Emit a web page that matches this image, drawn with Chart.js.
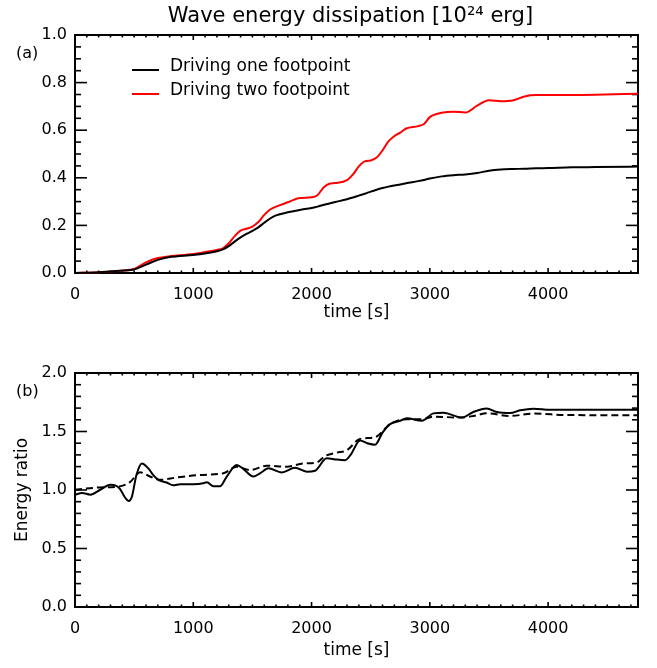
<!DOCTYPE html>
<html><head><meta charset="utf-8">
<script src="https://cdn.jsdelivr.net/npm/chart.js@4/dist/chart.umd.min.js"></script>
<style>
html,body{margin:0;padding:0;background:#fff;}
#wrap{position:relative;width:657px;height:668px;background:#fff;}
canvas{position:absolute;left:0;}
</style></head><body>
<div id="wrap">
<canvas id="ca" width="657" height="334" style="top:0px"></canvas>
<canvas id="cb" width="657" height="334" style="top:334px"></canvas>
</div>
<script>
// ---------- data ----------
const timeA = [0,200,400,500,600,700,800,1000,1100,1200,1250,1300,1350,1400,1450,1500,1550,1600,1650,1700,1800,1900,2000,2050,2100,2150,2200,2300,2350,2400,2450,2500,2550,2600,2650,2700,2750,2800,2900,2950,3000,3100,3200,3300,3400,3500,3600,3700,3800,3900,4000,4200,4400,4760];
const oneFootpoint = [0.0,0.003,0.01,0.015,0.035,0.055,0.067,0.076,0.082,0.091,0.099,0.113,0.132,0.15,0.164,0.177,0.192,0.211,0.229,0.242,0.255,0.265,0.273,0.279,0.286,0.292,0.298,0.31,0.317,0.325,0.333,0.342,0.35,0.357,0.363,0.368,0.372,0.377,0.386,0.391,0.397,0.406,0.411,0.414,0.42,0.43,0.435,0.437,0.438,0.44,0.441,0.444,0.445,0.447];
const twoFootpoint = [0.0,0.003,0.01,0.017,0.045,0.063,0.07,0.08,0.088,0.097,0.104,0.125,0.155,0.178,0.186,0.195,0.214,0.244,0.267,0.279,0.297,0.315,0.318,0.327,0.358,0.375,0.378,0.39,0.414,0.448,0.469,0.473,0.485,0.515,0.553,0.575,0.59,0.607,0.617,0.626,0.655,0.673,0.678,0.674,0.703,0.726,0.722,0.725,0.742,0.748,0.748,0.748,0.749,0.753];

const timeRatio = [0,60,130,210,300,340,380,420,455,480,520,565,620,660,705,775,830,890,1000,1085,1115,1170,1226,1283,1367,1423,1508,1564,1635,1748,1860,1959,2030,2128,2213,2283,2330,2410,2470,2537,2600,2664,2748,2805,2932,3030,3115,3270,3368,3481,3566,3679,3763,3876,4017,4300,4760];
const ratioSolid = [0.96,0.975,0.96,1.0,1.045,1.04,1.01,0.94,0.905,0.94,1.13,1.227,1.185,1.13,1.087,1.064,1.04,1.05,1.05,1.058,1.067,1.031,1.031,1.115,1.213,1.18,1.115,1.143,1.185,1.15,1.19,1.157,1.165,1.272,1.26,1.255,1.3,1.423,1.4,1.387,1.49,1.563,1.591,1.613,1.591,1.655,1.661,1.619,1.667,1.697,1.667,1.658,1.681,1.695,1.686,1.686,1.686];
const timeRatioSmooth = [0,211,380,465,550,634,719,860,1057,1254,1367,1480,1621,1790,1931,2044,2114,2213,2297,2410,2537,2664,2805,2932,3030,3256,3368,3481,3679,3876,4158,4760];
const ratioDashed = [1.003,1.022,1.031,1.067,1.151,1.115,1.087,1.107,1.129,1.143,1.199,1.171,1.208,1.199,1.227,1.235,1.29,1.319,1.339,1.437,1.451,1.563,1.605,1.605,1.627,1.619,1.633,1.655,1.633,1.653,1.641,1.639];

const xTickValues = [0,1000,2000,3000,4000];
const yTickValuesA = [0,0.2,0.4,0.6,0.8,1.0];
const yTickValuesB = [0,0.5,1.0,1.5,2.0];
const seriesLabels = ['Driving one footpoint','Driving two footpoint'];
const titleText = 'Wave energy dissipation [10\u00B2\u2074 erg]';
const xTitle = 'time [s]';
const yTitleB = 'Energy ratio';
const panelLabels = ['(a)','(b)'];

// ---------- helpers ----------
const FONT = "'DejaVu Sans', sans-serif";
const toXY = (xs, ys) => xs.map((x, i) => ({x: x, y: ys[i]}));

const framePlugin = {
  id: 'frame',
  beforeDatasetsDraw(chart, args, o) {
    const {ctx, chartArea: {left, right, top, bottom}, scales: {x, y}} = chart;
    ctx.save();
    ctx.strokeStyle = '#000';
    ctx.lineCap = 'butt';
    const seg = (x1, y1, x2, y2) => { ctx.beginPath(); ctx.moveTo(x1, y1); ctx.lineTo(x2, y2); ctx.stroke(); };
    ctx.lineWidth = 1.6;
    const nx = Math.floor((x.max - x.min) / o.xMinor + 1e-6);
    const xr = Math.round(o.xMajor / o.xMinor);
    for (let i = 0; i <= nx; i++) {
      const v = x.min + i * o.xMinor;
      const px = x.getPixelForValue(v);
      const L = (i % xr === 0) ? 5 : 2.5;
      seg(px, bottom, px, bottom - L);
      seg(px, top, px, top + L);
    }
    const ny = Math.floor((y.max - y.min) / o.yMinor + 1e-6);
    const yr = Math.round(o.yMajor / o.yMinor);
    for (let i = 0; i <= ny; i++) {
      const v = y.min + i * o.yMinor;
      const py = y.getPixelForValue(v);
      const L = (i % yr === 0) ? 12 : 6;
      seg(left, py, left + L, py);
      seg(right, py, right - L, py);
    }
    ctx.lineWidth = 2;
    ctx.strokeRect(left, top, right - left, bottom - top);
    ctx.restore();
  },
  afterDraw(chart, args, o) {
    const {ctx, chartArea: {left, right, top}} = chart;
    ctx.save();
    ctx.fillStyle = '#000';
    ctx.textBaseline = 'middle';
    ctx.textAlign = 'left';
    ctx.font = '16px ' + FONT;
    ctx.fillText(o.panel, 16, top + 19);
    if (o.title) {
      ctx.font = '21px ' + FONT;
      ctx.textAlign = 'center';
      ctx.fillText(o.title, (left + right) / 2 - 6, 17);
    }
    if (o.legend) {
      ctx.textAlign = 'left';
      ctx.font = '17px ' + FONT;
      chart.data.datasets.forEach((ds, i) => {
        const ly = top + 35 + i * 24;
        ctx.strokeStyle = ds.borderColor;
        ctx.lineWidth = 2;
        ctx.beginPath(); ctx.moveTo(left + 57, ly); ctx.lineTo(left + 84, ly); ctx.stroke();
        ctx.fillStyle = '#000';
        ctx.fillText(ds.label, left + 95, ly - 3);
      });
    }
    ctx.restore();
  }
};

function xScale(titlePadBottom) {
  return {
    type: 'linear', min: 0, max: 4760,
    afterFit(s) { s.height = 61; },
    afterBuildTicks(s) { s.ticks = xTickValues.map(v => ({value: v})); },
    grid: {display: false, drawTicks: false},
    border: {display: false},
    ticks: {color: '#000', font: {family: FONT, size: 16}, padding: 12, maxRotation: 0, autoSkip: false,
            callback: v => String(v)},
    title: {display: true, text: xTitle, color: '#000', font: {family: FONT, size: 17},
            padding: {top: 0, bottom: titlePadBottom}}
  };
}
function yScale(min, max, tickVals, title) {
  const s = {
    type: 'linear', min: min, max: max,
    afterFit(sc) { sc.width = 75; },
    afterBuildTicks(sc) { sc.ticks = tickVals.map(v => ({value: v})); },
    grid: {display: false, drawTicks: false},
    border: {display: false},
    ticks: {color: '#000', font: {family: FONT, size: 16}, padding: 8, autoSkip: false,
            callback: v => Number(v).toFixed(1)}
  };
  if (title) s.title = {display: true, text: title, color: '#000', font: {family: FONT, size: 17},
                        padding: {top: 12, bottom: 0}};
  return s;
}

const common = {responsive: false, animation: false, devicePixelRatio: 1};

new Chart(document.getElementById('ca'), {
  type: 'line',
  data: {datasets: [
    {label: seriesLabels[0], data: toXY(timeA, oneFootpoint), borderColor: '#000000', borderWidth: 2,
     pointRadius: 0, cubicInterpolationMode: 'monotone', fill: false, clip: 4},
    {label: seriesLabels[1], data: toXY(timeA, twoFootpoint), borderColor: '#ff0000', borderWidth: 2,
     pointRadius: 0, cubicInterpolationMode: 'monotone', fill: false, clip: 4}
  ]},
  options: Object.assign({}, common, {
    layout: {padding: {top: 35, right: 19, left: 0, bottom: 0}},
    plugins: {legend: {display: false}, tooltip: {enabled: false},
              frame: {xMinor: 100, xMajor: 1000, yMinor: 0.05, yMajor: 0.2, panel: panelLabels[0], title: titleText, legend: true}},
    scales: {x: xScale(11), y: yScale(0, 1.0, yTickValuesA, null)}
  }),
  plugins: [framePlugin]
});

new Chart(document.getElementById('cb'), {
  type: 'line',
  data: {datasets: [
    {label: 'ratio', data: toXY(timeRatio, ratioSolid), borderColor: '#000000', borderWidth: 2,
     pointRadius: 0, cubicInterpolationMode: 'monotone', fill: false, clip: 4},
    {label: 'ratio (smoothed)', data: toXY(timeRatioSmooth, ratioDashed), borderColor: '#000000', borderWidth: 2,
     borderDash: [7, 4], pointRadius: 0, cubicInterpolationMode: 'monotone', fill: false, clip: 4}
  ]},
  options: Object.assign({}, common, {
    layout: {padding: {top: 39, right: 19, left: 0, bottom: 0}},
    plugins: {legend: {display: false}, tooltip: {enabled: false},
              frame: {xMinor: 100, xMajor: 1000, yMinor: 0.1, yMajor: 0.5, panel: panelLabels[1], title: null, legend: false}},
    scales: {x: xScale(7), y: yScale(0, 2.0, yTickValuesB, yTitleB)}
  }),
  plugins: [framePlugin]
});
</script>
</body></html>
